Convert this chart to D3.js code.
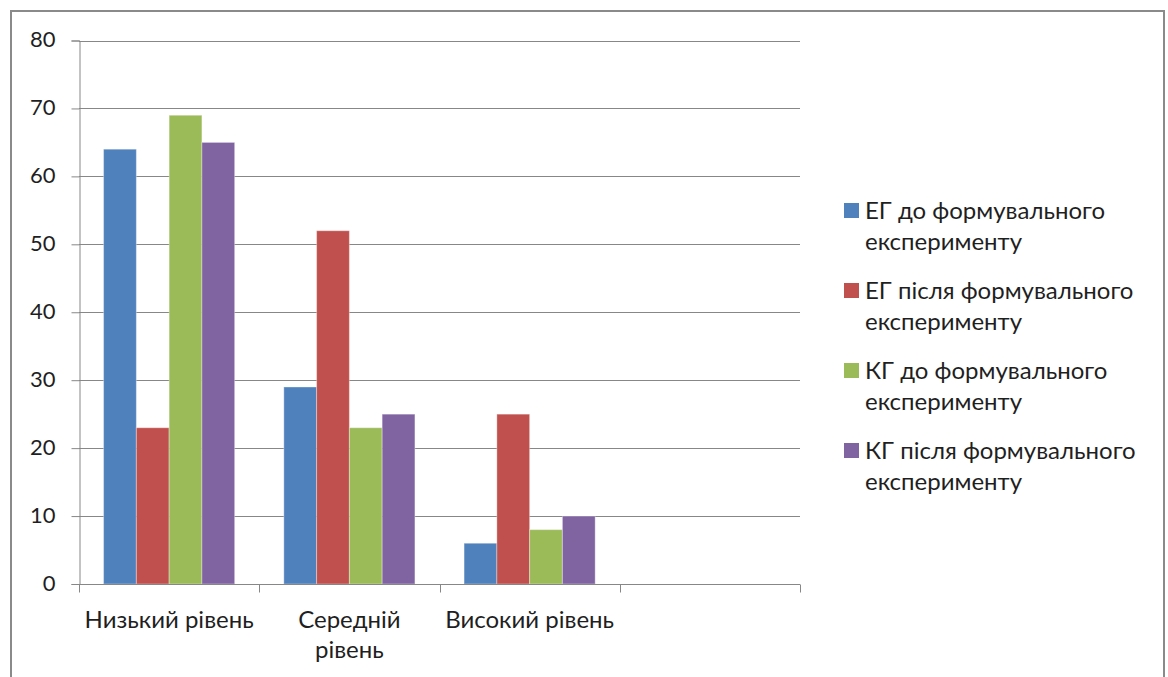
<!DOCTYPE html>
<html>
<head>
<meta charset="utf-8">
<script src="https://cdn.jsdelivr.net/npm/d3@7"></script>
<style>
  html, body { margin: 0; padding: 0; background: #fff; }
  svg { display: block; }
  text { font-family: Lato, "Open Sans", sans-serif; fill: #1f1f1f; }
</style>
</head>
<body>
<svg id="chart" width="1168" height="677"></svg>
<script>
// Categories (the fourth slot is left empty on purpose)
const categories = ["Низький рівень", "Середній рівень", "Високий рівень", ""];
const categoryLines = [["Низький рівень"], ["Середній", "рівень"], ["Високий рівень"], []];

const seriesNames = [
  "ЕГ до формувального експерименту",
  "ЕГ після формувального експерименту",
  "КГ до формувального експерименту",
  "КГ після формувального експерименту"
];
const legendLines = [
  ["ЕГ до формувального", "експерименту"],
  ["ЕГ після формувального", "експерименту"],
  ["КГ до формувального", "експерименту"],
  ["КГ після формувального", "експерименту"]
];
const seriesColors = ["#4F81BD", "#C0504D", "#9BBB59", "#8064A2"];

// Values per series, in category order
const egBefore = [64, 29, 6];
const egAfter  = [23, 52, 25];
const kgBefore = [69, 23, 8];
const kgAfter  = [65, 25, 10];
const seriesValues = [egBefore, egAfter, kgBefore, kgAfter];

const yTicks = [0, 10, 20, 30, 40, 50, 60, 70, 80];

const svg = d3.select("#chart");

// Outer chart frame
svg.append("rect")
  .attr("x", 11).attr("y", 11)
  .attr("width", 1153).attr("height", 700)
  .attr("fill", "#fff")
  .attr("stroke", "#8a8a8a").attr("stroke-width", 2);

const plot = { left: 79, right: 800, top: 40.5, bottom: 584 };

const x = d3.scaleBand().domain(d3.range(categories.length))
  .range([plot.left, plot.right]).paddingInner(0).paddingOuter(0);
const xs = d3.scaleBand().domain(d3.range(seriesNames.length))
  .range([0, x.bandwidth()]).paddingInner(0).paddingOuter(0.75);
const y = d3.scaleLinear().domain([0, 80]).range([plot.bottom, plot.top]);

// Gridlines
svg.append("g").selectAll("line").data(yTicks.filter(d => d > 0)).join("line")
  .attr("x1", plot.left).attr("x2", plot.right)
  .attr("y1", d => Math.round(y(d)) + 0.5).attr("y2", d => Math.round(y(d)) + 0.5)
  .attr("stroke", "#878787").attr("stroke-width", 1);

// Y axis
const yAxis = svg.append("g")
  .attr("transform", `translate(${plot.left + 0.5},0)`)
  .call(d3.axisLeft(y).tickValues(yTicks).tickSize(8).tickPadding(16).tickFormat(d3.format("d")));
yAxis.select(".domain").attr("stroke", "#878787");
yAxis.selectAll(".tick line").attr("stroke", "#878787");
yAxis.selectAll(".tick text")
  .style("font-family", "Lato, 'Open Sans', sans-serif")
  .style("font-size", "22px").attr("fill", "#1f1f1f")
  .attr("dy", "0.28em");

// Bars
const groups = svg.append("g").selectAll("g")
  .data(seriesValues).join("g")
  .attr("fill", (d, i) => seriesColors[i]);
groups.each(function(vals, si) {
  d3.select(this).selectAll("rect").data(vals).join("rect")
    .attr("x", (v, ci) => x(ci) + xs(si))
    .attr("y", v => y(v))
    .attr("width", xs.bandwidth())
    .attr("height", v => y(0) - y(v))
    .attr("stroke", "rgba(255,255,255,0.35)")
    .attr("stroke-width", 1);
});

// X axis
const xAxisY = Math.round(y(0)) + 0.5;
svg.append("line")
  .attr("x1", plot.left).attr("x2", plot.right)
  .attr("y1", xAxisY).attr("y2", xAxisY)
  .attr("stroke", "#878787");
const boundaries = d3.range(categories.length + 1).map(i => i < categories.length ? x(i) : plot.right);
svg.append("g").selectAll("line").data(boundaries).join("line")
  .attr("x1", d => Math.round(d) + 0.5).attr("x2", d => Math.round(d) + 0.5)
  .attr("y1", xAxisY).attr("y2", xAxisY + 8)
  .attr("stroke", "#878787");

// Category labels
const catG = svg.append("g").selectAll("text").data(categoryLines).join("text")
  .attr("text-anchor", "middle")
  .style("font-size", "24px")
  .attr("x", (d, i) => x(i) + x.bandwidth() / 2)
  .attr("y", 628);
catG.selectAll("tspan").data(d => d).join("tspan")
  .attr("x", function() { return d3.select(this.parentNode).attr("x"); })
  .attr("dy", (d, i) => i === 0 ? 0 : 30)
  .text(d => d);

// Legend
const legend = svg.append("g");
legendLines.forEach((lines, i) => {
  const base = 219 + i * 80;
  legend.append("rect")
    .attr("x", 844).attr("y", base - 16)
    .attr("width", 15).attr("height", 15)
    .attr("fill", seriesColors[i]);
  const t = legend.append("text").style("font-size", "24px").attr("y", base);
  lines.forEach((ln, j) => {
    t.append("tspan").attr("x", 865).attr("dy", j === 0 ? 0 : 31).text(ln);
  });
});
</script>
</body>
</html>
